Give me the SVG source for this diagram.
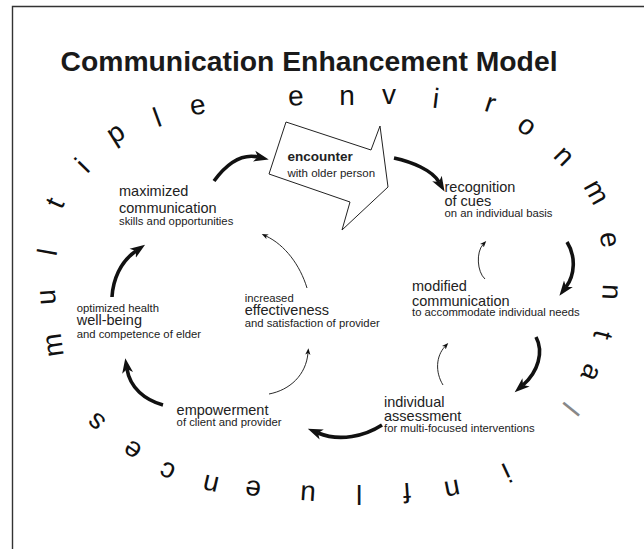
<svg xmlns="http://www.w3.org/2000/svg" width="644" height="549" viewBox="0 0 644 549">
<style>
text{font-family:"Liberation Sans",Arial,sans-serif;fill:#222}
.t{font-size:28px;font-weight:bold;fill:#1a1a1a}
.m{font-size:14.5px}
.s{font-size:11.3px}
.r{font-size:28px;text-anchor:middle;fill:#111}
.x{dominant-baseline:auto}
.thick{fill:none;stroke:#111;stroke-width:3.6;marker-end:url(#ah)}
.thin{fill:none;stroke:#111;stroke-width:0.9;marker-end:url(#as)}
</style>
<defs>
<marker id="ah" viewBox="0 -6 16 12" refX="4" refY="0" markerWidth="16" markerHeight="12" markerUnits="userSpaceOnUse" orient="auto"><path d="M0,-5.5 L15,0 L0,5.5 L4,0 z" fill="#111"/></marker>
<marker id="as" viewBox="0 -3 7 6" refX="1.8" refY="0" markerWidth="7" markerHeight="6" markerUnits="userSpaceOnUse" orient="auto"><path d="M0,-2.6 L6.5,0 L0,2.6 L1.8,0 z" fill="#111"/></marker>
</defs>
<rect width="644" height="549" fill="#fff"/>
<path d="M12.5,549 V6.5 H644" fill="none" stroke="#333" stroke-width="1.4"/>
<text class="t" x="60.5" y="71" textLength="497" lengthAdjust="spacingAndGlyphs">Communication Enhancement Model</text>

<g id="ring">
<text class="r" x="55" y="345" dy="7.3" transform="rotate(-98 55 345)">m</text>
<text class="r" x="48" y="297" dy="7.3" transform="rotate(-94 48 297)">u</text>
<text class="r" x="47" y="252" dy="10" transform="rotate(-80 47 252)">l</text>
<text class="r" x="55" y="203" dy="9.2" transform="rotate(-66 55 203)">t</text>
<text class="r" x="82" y="165" dy="10" transform="rotate(-46 82 165)">i</text>
<text class="r" x="118" y="137" dy="4.3" transform="rotate(-32 118 137)">p</text>
<text class="r" x="157" y="117" dy="10" transform="rotate(-20 157 117)">l</text>
<text class="r" x="198" y="107" dy="7.3" transform="rotate(-10 198 107)">e</text>
<text class="r" x="296" y="98" dy="7.3" transform="rotate(-3 296 98)">e</text>
<text class="r" x="347" y="98" dy="7.3">n</text>
<text class="r" x="389" y="97" dy="7.3">v</text>
<text class="r" x="436" y="98" dy="10" transform="rotate(7 436 98)">i</text>
<text class="r" x="490" y="105" dy="7.3" transform="rotate(18 490 105)">r</text>
<text class="r" x="526" y="127" dy="7.3" transform="rotate(35 526 127)">o</text>
<text class="r" x="563" y="157" dy="7.3" transform="rotate(45 563 157)">n</text>
<text class="r" x="595" y="193" dy="7.3" transform="rotate(61 595 193)">m</text>
<text class="r" x="608" y="240" dy="7.3" transform="rotate(80 608 240)">e</text>
<text class="r" x="610" y="292" dy="7.3" transform="rotate(93 610 292)">n</text>
<text class="r" x="603" y="335" dy="9.2" transform="rotate(104 603 335)">t</text>
<text class="r" x="590" y="372" dy="7.3" transform="rotate(114 590 372)">a</text>
<text class="r" x="571" y="409" dy="10" transform="rotate(129 571 409)" style="fill:#888">l</text>
<text class="r" x="507" y="473" dy="10" transform="rotate(155 507 473)">i</text>
<text class="r" x="452" y="488" dy="7.3" transform="rotate(169 452 488)">n</text>
<text class="r" x="407" y="493" dy="10" transform="rotate(176 407 493)">f</text>
<text class="r" x="359" y="495" dy="10" transform="rotate(180 359 495)">l</text>
<text class="r" x="308" y="493" dy="7.3" transform="rotate(184 308 493)">u</text>
<text class="r" x="253" y="488" dy="7.3" transform="rotate(187 253 488)">e</text>
<text class="r" x="211" y="483" dy="7.3" transform="rotate(193 211 483)">n</text>
<text class="r" x="168" y="470" dy="7.3" transform="rotate(204 168 470)">c</text>
<text class="r" x="133" y="449" dy="7.3" transform="rotate(215 133 449)">e</text>
<text class="r" x="97" y="421" dy="7.3" transform="rotate(222 97 421)">s</text>
</g>

<g id="connectors">
<path class="thick" d="M112,297 C113,280 120,262 136,251"/>
<path class="thick" d="M214,181 C225,166 240,153 258,157"/>
<path class="thick" d="M394,158 C412,162 432,170 439,182"/>
<path class="thick" d="M567,242 C576,256 575,275 566,287"/>
<path class="thick" d="M536,337 C544,352 538,372 523,385"/>
<path class="thick" d="M382,425 C365,436 340,442 318,433"/>
<path class="thick" d="M163,405 C145,400 130,388 127,369"/>
<path class="thin" d="M307,288 C300,265 285,245 266,236"/>
<path class="thin" d="M269,394 C290,390 306,375 308,353"/>
<path class="thin" d="M443,385 C435,372 436,356 445,346.5"/>
<path class="thin" d="M485,279 C477,272 476,252 483,244.5"/>
</g>

<g id="encounter">
<polygon points="286,122 371,150 380,126 388,187 342,230 350,202 269,174" fill="#fff" stroke="#222" stroke-width="1"/>
<text x="287.5" y="160.7" style="font-size:13.5px;font-weight:bold">encounter</text>
<text x="287.5" y="177.3" style="font-size:11.5px">with older person</text>
</g>

<g id="recognition">
<text class="m" x="444.5" y="191.5">recognition</text>
<text class="m" x="444.5" y="205.5">of cues</text>
<text class="s" x="444.5" y="216.5">on an individual basis</text>
</g>

<g id="modified">
<text class="m" x="412" y="290.5">modified</text>
<text class="m" x="412" y="305.5">communication</text>
<text class="s" x="412" y="315.7">to accommodate individual needs</text>
</g>

<g id="assessment">
<text class="m" x="384" y="406.5">individual</text>
<text class="m" x="384" y="420.5">assessment</text>
<text class="s" x="384" y="432.3">for multi-focused interventions</text>
</g>

<g id="empowerment">
<text class="m" x="176.6" y="415">empowerment</text>
<text class="s" x="176.6" y="425.5">of client and provider</text>
</g>

<g id="effectiveness">
<text class="s" x="244.7" y="302.3">increased</text>
<text class="m" x="244.7" y="315">effectiveness</text>
<text class="s" x="244.7" y="326.7">and satisfaction of provider</text>
</g>

<g id="wellbeing">
<text class="s" x="76.7" y="312.3">optimized health</text>
<text class="m" x="76.7" y="325">well-being</text>
<text class="s" x="76.7" y="337.7">and competence of elder</text>
</g>

<g id="maximized">
<text class="m" x="119" y="196">maximized</text>
<text class="m" x="119" y="213">communication</text>
<text class="s" x="119" y="225">skills and opportunities</text>
</g>
</svg>
